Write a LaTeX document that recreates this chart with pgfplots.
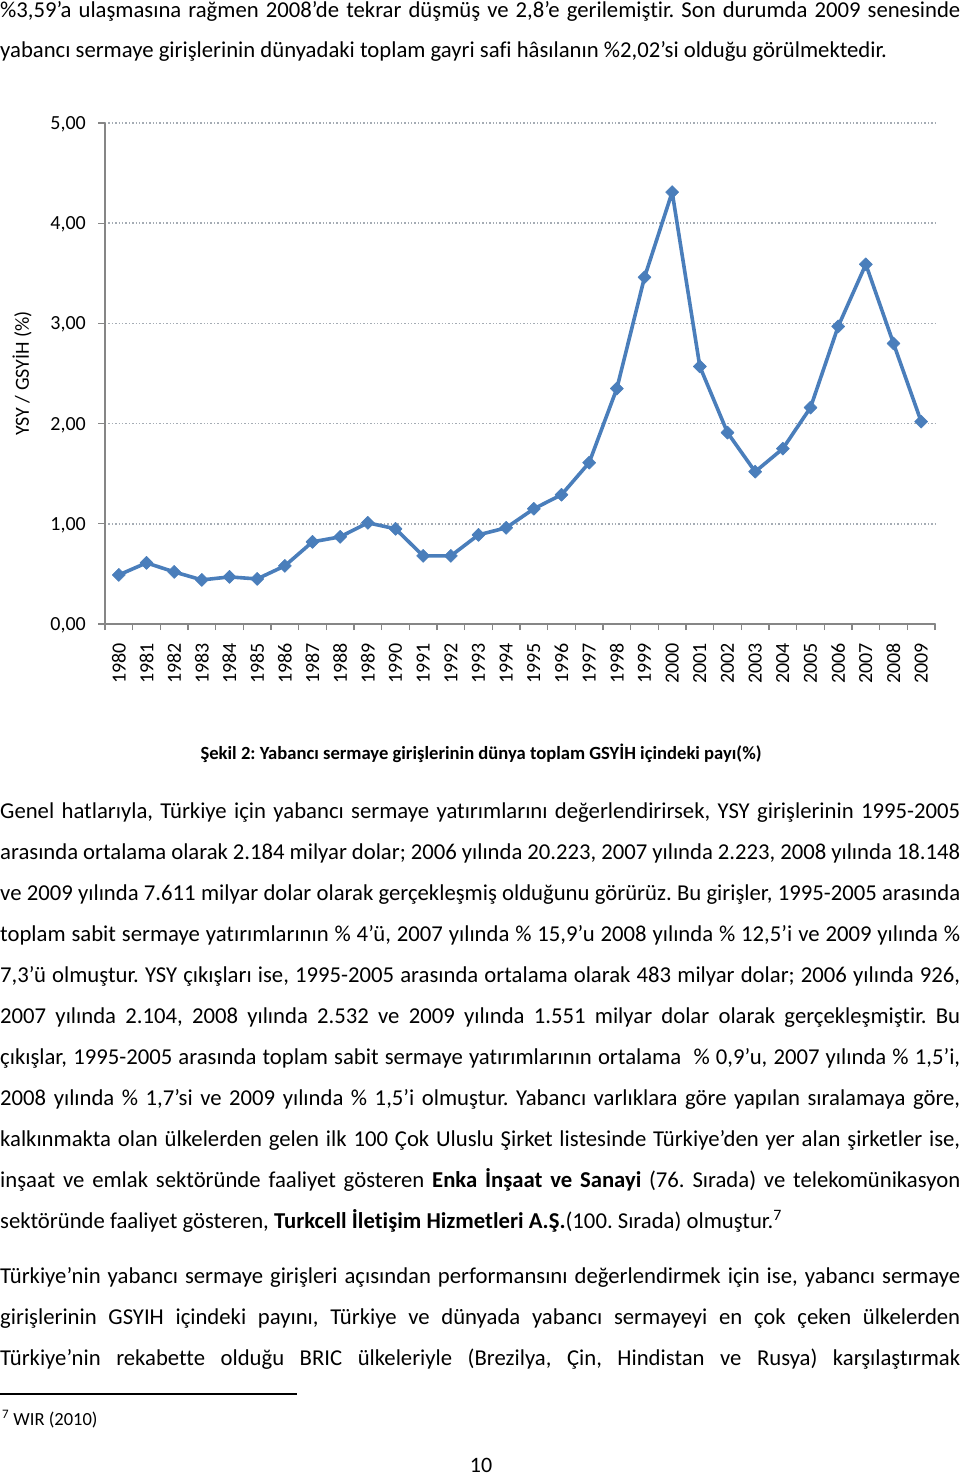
\documentclass[border=0pt]{standalone}
\usepackage{pgfplots}
\usepackage{pgfplotstable}
\pgfplotsset{compat=1.18}
\usepackage{fontspec}
\setmainfont{Carlito}[Ligatures=NoCommon]
\frenchspacing

\definecolor{ysyblue}{RGB}{74,126,187}
\definecolor{axisgray}{RGB}{134,134,134}
\definecolor{gridgray}{RGB}{165,172,180}

% YSY / GSYIH (%) by year
\pgfplotstableread{
year val
1980 0.49
1981 0.61
1982 0.52
1983 0.44
1984 0.47
1985 0.45
1986 0.58
1987 0.82
1988 0.87
1989 1.01
1990 0.95
1991 0.68
1992 0.68
1993 0.89
1994 0.96
1995 1.15
1996 1.29
1997 1.61
1998 2.35
1999 3.46
2000 4.31
2001 2.57
2002 1.91
2003 1.52
2004 1.75
2005 2.16
2006 2.97
2007 3.59
2008 2.80
2009 2.02
}\ysydata

% justified line / left-aligned line at a given baseline (px from top)
\newcommand{\jline}[2]{\node[anchor=base west,inner sep=0pt] at (0pt,-#1pt) {\makebox[960pt][s]{#2}};}
\newcommand{\lline}[2]{\node[anchor=base west,inner sep=0pt] at (0pt,-#1pt) {#2};}
\newcommand{\chartfont}{\fontsize{20pt}{22pt}\selectfont}

\begin{document}
\begin{tikzpicture}[font=\fontsize{22.7pt}{24pt}\selectfont]
\path[use as bounding box] (0pt,0pt) rectangle (960pt,-1475pt);

\jline{17}{\%3,59’a ulaşmasına rağmen 2008’de tekrar düşmüş ve 2,8’e gerilemiştir. Son durumda 2009 senesinde}
\lline{57}{yabancı sermaye girişlerinin dünyadaki toplam gayri safi hâsılanın \%2,02’si olduğu görülmektedir.}

\begin{axis}[
  at={(105pt,-624pt)}, anchor=south west,
  scale only axis, width=830pt, height=501pt,
  xmin=1979.5, xmax=2009.5, ymin=0, ymax=5,
  axis lines*=left,
  axis line style={axisgray, line width=1.3pt},
  tick align=outside,
  major tick length=7pt, minor tick length=6pt,
  xtick={1980,...,2009},
  xticklabels={1980,1981,1982,1983,1984,1985,1986,1987,1988,1989,1990,1991,1992,1993,1994,1995,1996,1997,1998,1999,2000,2001,2002,2003,2004,2005,2006,2007,2008,2009},
  minor xtick={1979.5,1980.5,...,2009.5},
  major x tick style={draw=none},
  minor x tick style={axisgray, line width=1.3pt},
  ytick={0,1,2,3,4,5},
  yticklabels={{0,00},{1,00},{2,00},{3,00},{4,00},{5,00}},
  ytick style={axisgray, line width=1.3pt},
  ymajorgrids,
  major grid style={gridgray, line width=1.6pt, dash pattern=on 1.4pt off 2pt},
  xticklabel style={rotate=90, anchor=east, inner sep=0pt, font=\chartfont},
  yticklabel style={anchor=east, inner sep=0pt, text depth=0pt, font=\chartfont},
  xticklabel shift=12pt,
  yticklabel shift=12pt,
  ylabel={YSY / GSYİH (\%)},
  every axis y label/.style={at={(axis description cs:-0.1,0.5)}, rotate=90, anchor=center, font=\chartfont},
  clip=false,
]
\addplot[ysyblue, line width=3.6pt, line join=round,
  mark=square*, mark size=4.6pt,
  mark options={rotate=45, solid, fill=ysyblue, line width=0.6pt}]
  table[x=year, y=val] {\ysydata};
\end{axis}

\node[anchor=base, inner sep=0pt, font=\fontsize{18.6pt}{20pt}\selectfont\bfseries] at (481pt,-759pt)
  {Şekil 2: Yabancı sermaye girişlerinin dünya toplam GSYİH içindeki payı(\%)};

\jline{818}{Genel hatlarıyla, Türkiye için yabancı sermaye yatırımlarını değerlendirirsek, YSY girişlerinin 1995-2005}
\jline{859}{arasında ortalama olarak 2.184 milyar dolar; 2006 yılında 20.223, 2007 yılında 2.223, 2008 yılında 18.148}
\jline{900}{ve 2009 yılında 7.611 milyar dolar olarak gerçekleşmiş olduğunu görürüz. Bu girişler, 1995-2005 arasında}
\jline{941}{toplam sabit sermaye yatırımlarının \% 4’ü, 2007 yılında \% 15,9’u 2008 yılında \% 12,5’i ve 2009 yılında \%}
\jline{982}{7,3’ü olmuştur. YSY çıkışları ise, 1995-2005 arasında ortalama olarak 483 milyar dolar; 2006 yılında 926,}
\jline{1023}{2007 yılında 2.104, 2008 yılında 2.532 ve 2009 yılında 1.551 milyar dolar olarak gerçekleşmiştir. Bu}
\jline{1064}{çıkışlar, 1995-2005 arasında toplam sabit sermaye yatırımlarının ortalama \ \% 0,9’u, 2007 yılında \% 1,5’i,}
\jline{1105}{2008 yılında \% 1,7’si ve 2009 yılında \% 1,5’i olmuştur. Yabancı varlıklara göre yapılan sıralamaya göre,}
\jline{1146}{kalkınmakta olan ülkelerden gelen ilk 100 Çok Uluslu Şirket listesinde Türkiye’den yer alan şirketler ise,}
\jline{1187}{inşaat ve emlak sektöründe faaliyet gösteren \textbf{Enka İnşaat ve Sanayi} (76. Sırada) ve telekomünikasyon}
\lline{1228}{sektöründe faaliyet gösteren, \textbf{Turkcell İletişim Hizmetleri A.Ş.}(100. Sırada) olmuştur.\textsuperscript{7}}

\jline{1283}{Türkiye’nin yabancı sermaye girişleri açısından performansını değerlendirmek için ise, yabancı sermaye}
\jline{1324}{girişlerinin GSYIH içindeki payını, Türkiye ve dünyada yabancı sermayeyi en çok çeken ülkelerden}
\jline{1365}{Türkiye’nin rekabette olduğu BRIC ülkeleriyle (Brezilya, Çin, Hindistan ve Rusya) karşılaştırmak}

\draw[line width=1.2pt] (0pt,-1394pt) -- (297pt,-1394pt);
\node[anchor=base west, inner sep=0pt, font=\fontsize{18.5pt}{19pt}\selectfont] at (2pt,-1425pt)
  {\textsuperscript{7} WIR (2010)};
\node[anchor=base, inner sep=0pt, font=\fontsize{22pt}{22pt}\selectfont] at (481pt,-1472pt) {10};
\end{tikzpicture}
\end{document}
